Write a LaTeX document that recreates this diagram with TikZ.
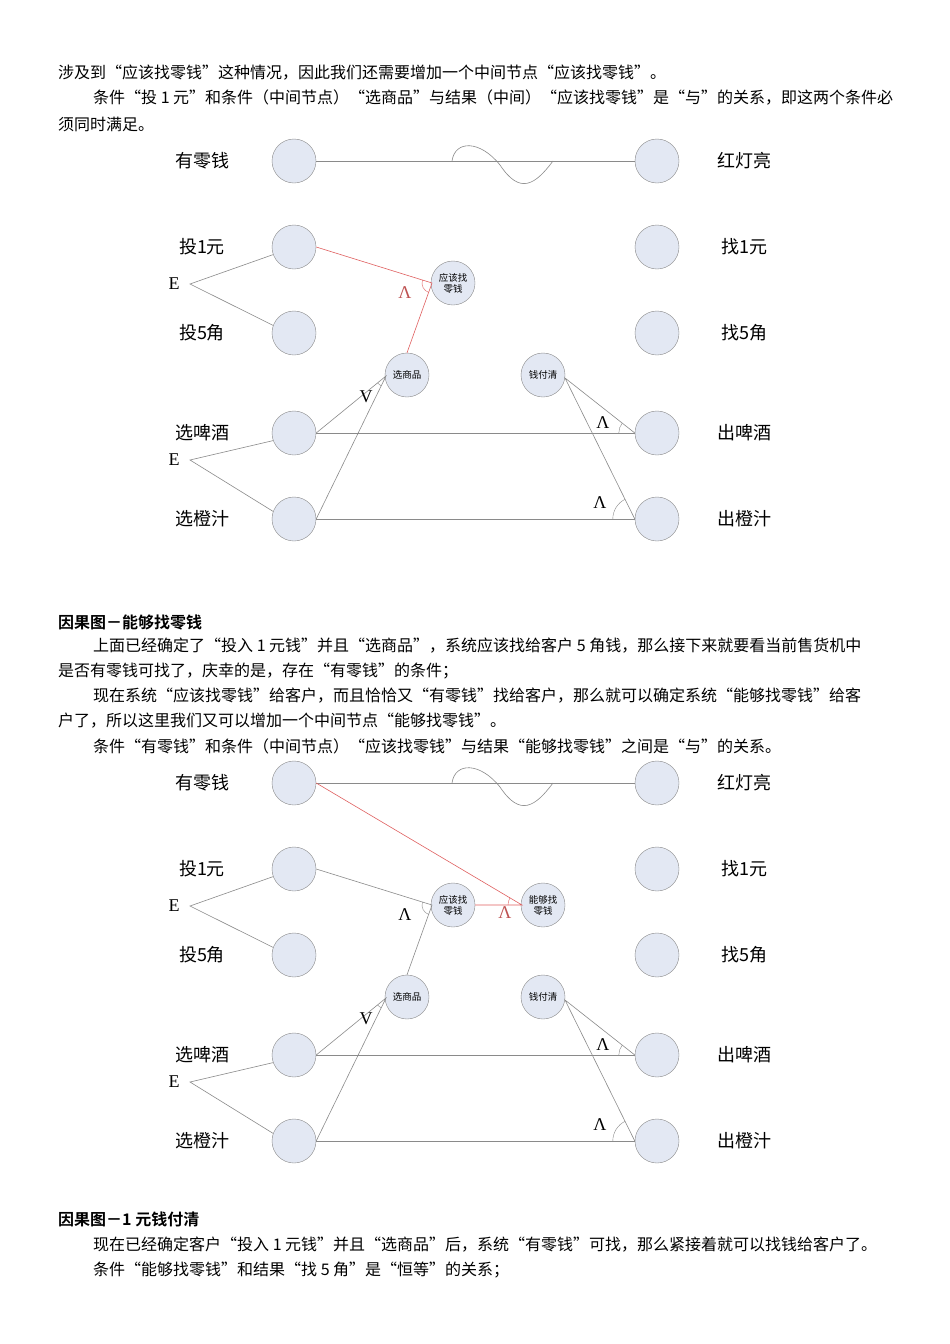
\documentclass[tikz,border=0pt]{standalone}
\usepackage{fontspec}
\setmainfont{Noto Sans CJK SC}
\newfontfamily\cjkb[BoldFont={Noto Sans CJK SC Bold}]{Noto Sans CJK SC}
\newfontfamily\serifE{Liberation Serif}
\definecolor{cfill}{HTML}{E3E8F3}
\definecolor{cline}{HTML}{8A8A8A}
\definecolor{cred}{HTML}{E06060}
\tikzset{
  big/.style={circle,draw=cline,fill=cfill,minimum size=44pt,inner sep=0pt},
  small/.style={circle,draw=cline,fill=cfill,minimum size=44pt,inner sep=0pt,font=\fontsize{9.5}{11}\selectfont,align=center},
  lab/.style={font=\fontsize{18}{20}\selectfont},
  con/.style={draw=cline,line width=0.6pt},
  redcon/.style={draw=cred,line width=0.6pt},
  sym/.style={font=\serifE\fontsize{18}{18}\selectfont},
  txt/.style={anchor=west,inner sep=0pt,font=\fontsize{16}{17}\selectfont},
}
\newcommand\drawdiag[3]{% #1 prefix, #2 y offset, #3 variant
  \begin{scope}[yshift=-#2pt]
  \foreach \n/\y/\l/\r in {a/161/有零钱/红灯亮, b/247/投1元/找1元, c/333/投5角/找5角, d/433/选啤酒/出啤酒, e/519/选橙汁/出橙汁}{
    \node[big] (#1L\n) at (294,-\y) {};
    \node[big] (#1R\n) at (657,-\y) {};
    \node[lab] (#1LL\n) at (202,-\y) {\l};
    \node[lab] (#1RL\n) at (744,-\y) {\r};
  }
  \node[small] (#1sp) at (407,-375) {选商品};
  \node[small] (#1qf) at (543,-375) {钱付清};
  \node[small] (#1yg) at (453,-283) {应该找\\零钱};
  \node[sym] (#1E1) at (174,-284) {E};
  \node[sym] (#1E2) at (174,-460) {E};
  \coordinate (#1v1) at (190,-284);
  \coordinate (#1v2) at (190,-460);
  \path[con] (#1Lb.200) -- (#1v1) -- (#1Lc.160);
  \path[con] (#1Ld.200) -- (#1v2) -- (#1Le.160);
  \coordinate (#1w1) at (452,-161);
  \coordinate (#1w2) at (553,-161);
  \path[con] (#1La.east) -- (#1Ra.west);
  \path[con] (#1w1) .. controls (455,-140) and (480,-140) .. (500,-165)
     .. controls (520,-195) and (535,-185) .. (#1w2);
  \path[con] (#1Ld.east) -- (#1Rd.west);
  \path[con] (#1Le.east) -- (#1Re.west);
  \coordinate (#1spL) at (386,-376);
  \path[con] (#1Ld.east) -- (#1spL) -- (#1Le.east);
  \draw[cline] (#1spL) ++(220:11) arc (220:244:11);
  \node[sym] at (366,-397) {V};
  \coordinate (#1qfR) at (565,-378);
  \path[con] (#1Rd.west) -- (#1qfR) -- (#1Re.west);
  \draw[cline] (#1Rd.west) ++(142:16) arc (142:180:16);
  \draw[cline] (#1Re.west) ++(116:22) arc (116:180:22);
  \node[sym] at (603,-423) {Λ};
  \node[sym] at (600,-503) {Λ};
  \coordinate (#1ygL) at (432,-283);
  \ifnum#3=1
    \path[redcon] (#1Lb.east) -- (#1ygL) -- (#1sp.north);
    \draw[cred] (#1ygL) ++(164:10) arc (164:251:10);
    \node[sym,text=cred!85!black] at (405,-293) {Λ};
  \else
    \node[small] (#1ng) at (543,-283) {能够找\\零钱};
    \coordinate (#1ngL) at (522,-283);
    \path[con] (#1Lb.east) -- (#1ygL) -- (#1sp.north);
    \draw[cline] (#1ygL) ++(164:10) arc (164:251:10);
    \node[sym] at (405,-293) {Λ};
    \path[redcon] (#1La.east) -- (#1ngL) -- (#1yg.east);
    \draw[cred] (#1ngL) ++(149:14) arc (149:180:14);
    \node[sym,text=cred!85!black] at (505,-291) {Λ};
  \fi
  \end{scope}}
\begin{document}
\begin{tikzpicture}[x=1pt,y=1pt]
\useasboundingbox[fill=white] (0,0) rectangle (950,-1344);
\node[txt] at (58,-73) {涉及到“应该找零钱”这种情况，因此我们还需要增加一个中间节点“应该找零钱”。};
\node[txt] at (93,-98) {条件“投 1 元”和条件（中间节点）“选商品”与结果（中间）“应该找零钱”是“与”的关系，即这两个条件必};
\node[txt] at (58,-124) {须同时满足。};
\drawdiag{A}{0}{1}
\node[txt,font=\cjkb\bfseries\fontsize{16}{17}\selectfont] at (58,-622) {因果图－能够找零钱};
\node[txt] at (93,-646) {上面已经确定了“投入 1 元钱”并且“选商品”，系统应该找给客户 5 角钱，那么接下来就要看当前售货机中};
\node[txt] at (58,-671) {是否有零钱可找了，庆幸的是，存在“有零钱”的条件；};
\node[txt] at (93,-696) {现在系统“应该找零钱”给客户，而且恰恰又“有零钱”找给客户，那么就可以确定系统“能够找零钱”给客};
\node[txt] at (58,-721) {户了，所以这里我们又可以增加一个中间节点“能够找零钱”。};
\node[txt] at (93,-746) {条件“有零钱”和条件（中间节点）“应该找零钱”与结果“能够找零钱”之间是“与”的关系。};
\drawdiag{B}{622}{2}
\node[txt,font=\cjkb\bfseries\fontsize{16}{17}\selectfont] at (58,-1219) {因果图－1 元钱付清};
\node[txt] at (93,-1245) {现在已经确定客户“投入 1 元钱”并且“选商品”后，系统“有零钱”可找，那么紧接着就可以找钱给客户了。};
\node[txt] at (93,-1270) {条件“能够找零钱”和结果“找 5 角”是“恒等”的关系；};
\end{tikzpicture}
\end{document}
